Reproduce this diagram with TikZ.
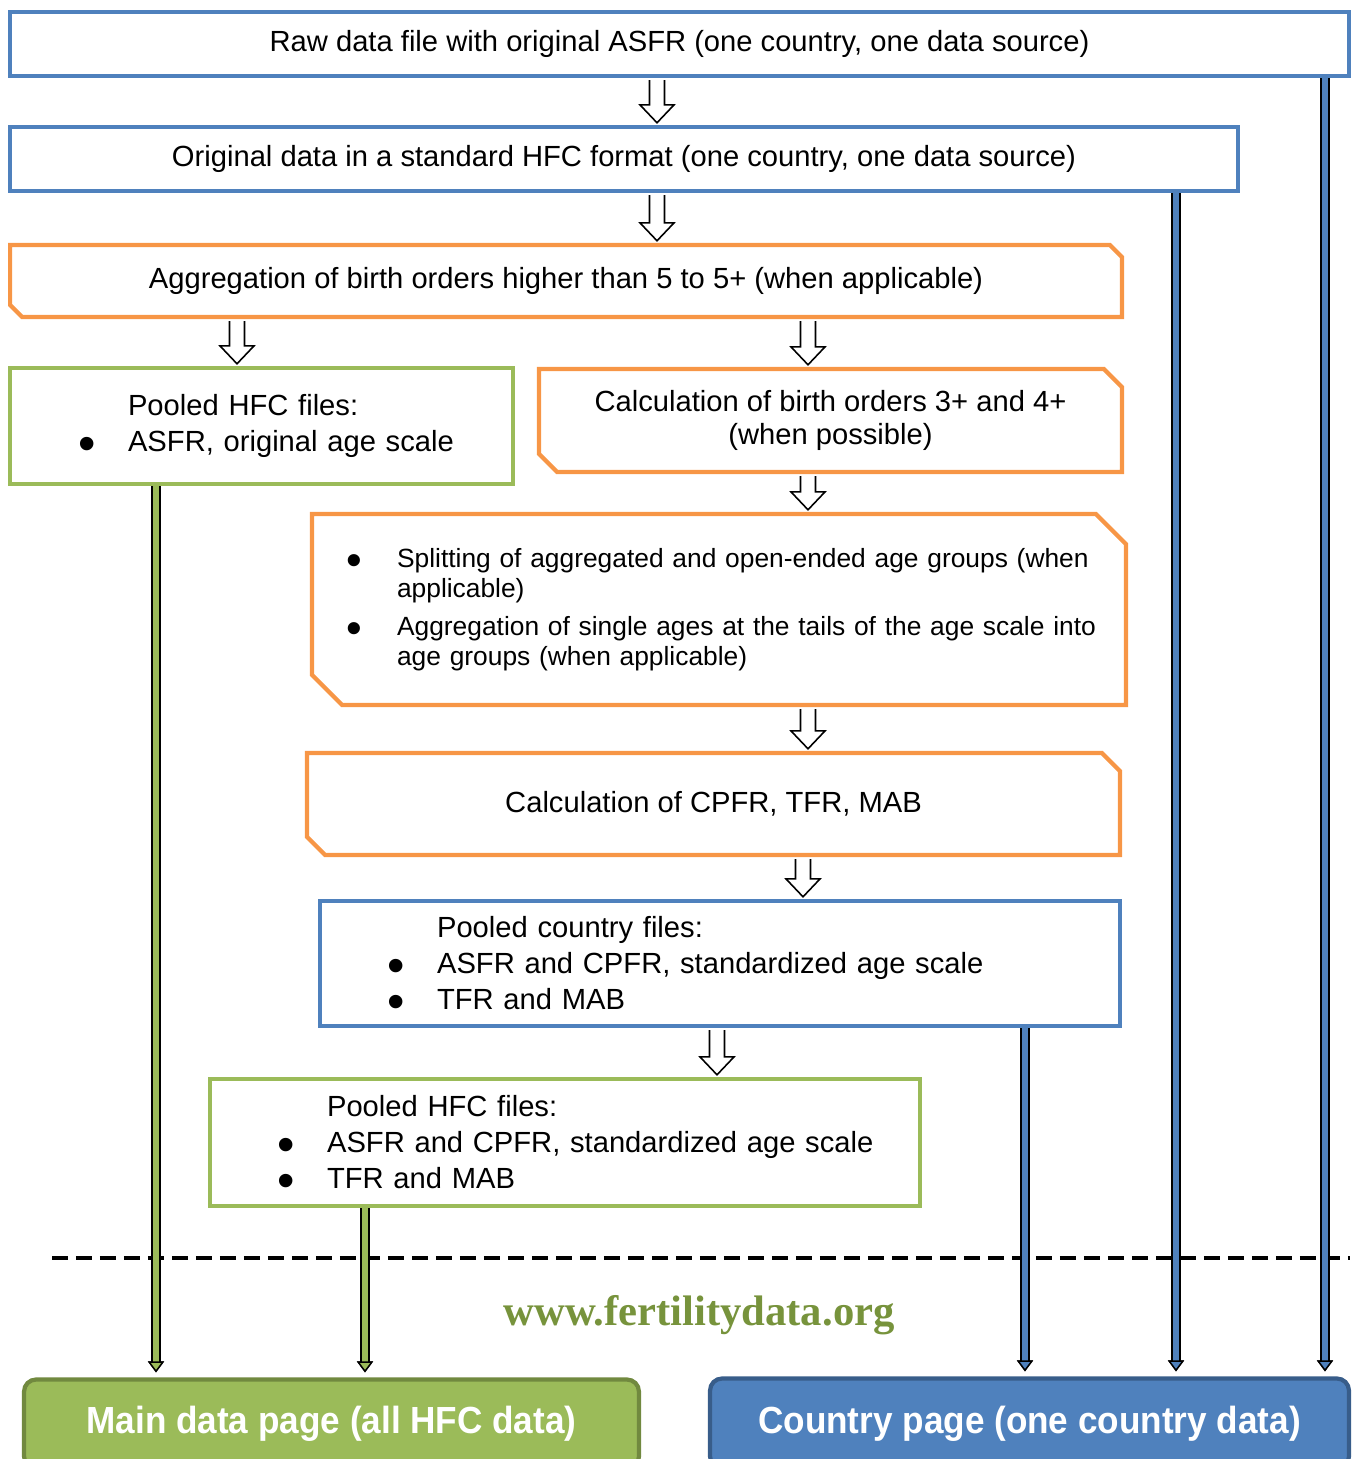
\documentclass[tikz,border=0pt]{standalone}
\usepackage{fontspec}
\setmainfont{Liberation Sans}
\newfontfamily\webfont{Liberation Serif}
\newfontfamily\pagefont[FakeStretch=0.93]{Liberation Sans}
\usepackage{xcolor}
\usetikzlibrary{positioning,shapes.misc,arrows.meta,calc}

\definecolor{hfcblue}{HTML}{4F81BD}
\definecolor{hfcorange}{HTML}{F79646}
\definecolor{hfcgreen}{HTML}{9BBB59}
\definecolor{hfcgreendark}{HTML}{71893F}
\definecolor{hfcbluedark}{HTML}{385D8A}
\definecolor{hfcweb}{HTML}{77933C}

\newcommand{\bul}[2]{\hspace*{#1}\makebox[#2][l]{\smash{\raisebox{-0.3em}{\scalebox{1.7}{\textbullet}}}}}

\begin{document}
\begin{tikzpicture} [
    x=0.02cm, y=-0.02cm,
    font=\fontsize{16.6}{20.5}\selectfont,
    plain/.style={rectangle, draw=#1, line width=2.4pt, inner sep=0pt, align=center},
    listbox/.style={rectangle, draw=#1, line width=2.4pt, inner sep=0pt, align=left},
    snip/.style={chamfered rectangle, chamfered rectangle corners={north east, south west}, chamfered rectangle xsep=#1, chamfered rectangle ysep=#1, draw=hfcorange, line width=2.4pt, inner sep=0pt, align=center},
    webpage/.style={rectangle, rounded corners=0.24cm, fill=#1, line width=2.4pt, text=white, font=\pagefont\bfseries\fontsize{21.5}{26}\selectfont},
    hollow/.style={draw=black, fill=white, line width=0.9pt, to path={let \p1=(\tikztostart), \p2=(\tikztotarget) in
        (\x1-0.15cm,\y1-1.2pt) -- (\x1-0.15cm,\y2+0.4cm) -- (\x1-0.34cm,\y2+0.4cm) -- (\x1,\y2+1.2pt)
        -- (\x1+0.34cm,\y2+0.4cm) -- (\x1+0.15cm,\y2+0.4cm) -- (\x1+0.15cm,\y1-1.2pt)}},
    feed/.style={draw=#1, line width=3.4pt, preaction={draw=black, line width=5.8pt}, shorten >=0.1cm,
        -{Triangle[width=0.32cm, length=0.22cm, line width=0.8pt, color=black, fill=#1]}}
]
\useasboundingbox (0,0) rectangle (1357,1459);

% Main flow
\node[plain=hfcblue, minimum width=26.78cm, minimum height=1.28cm] (raw) at (679.5,44) {Raw data file with original ASFR (one country, one data source)};
\node[plain=hfcblue, minimum width=24.56cm, minimum height=1.28cm] (orig) at (624,159) {Original data in a standard HFC format (one country, one data source)};
\node[snip=0.12cm, minimum width=22.24cm, minimum height=1.44cm] (agg) at (566,281) {Aggregation of birth orders higher than 5 to 5+ (when applicable)};
\node[listbox=hfcgreen, minimum width=10.06cm, text width=10.06cm, minimum height=2.32cm] (pool1) at (261.5,426) {\hspace*{2.36cm}Pooled HFC files:\\
    \bul{1.36cm}{1cm}ASFR, original age scale};
\node[snip=0.18cm, minimum width=11.66cm, minimum height=2.06cm, font=\fontsize{16.6}{19}\selectfont] (births) at (830.5,420.5) {Calculation of birth orders 3+ and 4+\\(when possible)};
\node[snip=0.3cm, minimum width=16.28cm, text width=15.68cm, minimum height=3.82cm, align=left, font=\fontsize{15}{17}\selectfont] (split) at (719,609.5) {\bul{0.38cm}{1.02cm}Splitting of aggregated and open-ended age groups (when\\
    \hspace*{1.4cm}applicable)\\[0.16cm]
    \bul{0.38cm}{1.02cm}Aggregation of single ages at the tails of the age scale into\\
    \hspace*{1.4cm}age groups (when applicable)};
\node[snip=0.18cm, minimum width=16.26cm, minimum height=2.04cm] (calc) at (713.5,804) {Calculation of CPFR, TFR, MAB};
\node[listbox=hfcblue, minimum width=16cm, text width=16cm, minimum height=2.5cm] (country) at (720,963.5) {\hspace*{2.34cm}Pooled country files:\\
    \bul{1.34cm}{1cm}ASFR and CPFR, standardized age scale\\
    \bul{1.34cm}{1cm}TFR and MAB};
\node[listbox=hfcgreen, minimum width=14.2cm, text width=14.2cm, minimum height=2.54cm] (pool2) at (565,1142.5) {\hspace*{2.34cm}Pooled HFC files:\\
    \bul{1.34cm}{1cm}ASFR and CPFR, standardized age scale\\
    \bul{1.34cm}{1cm}TFR and MAB};
\node[webpage=hfcgreen, draw=hfcgreendark, minimum width=12.3cm, minimum height=1.78cm] (mainpage) at (331.5,1424) {Main data page (all HFC data)};
\node[webpage=hfcblue, draw=hfcbluedark, minimum width=12.78cm, minimum height=1.8cm] (cpage) at (1029.5,1423.5) {Country page (one country data)};

% Web address
\draw[dash pattern=on 0.32cm off 0.16cm, line width=2pt] (52,1258) -- (1350,1258);
\node[text=hfcweb, font=\webfont\bfseries\fontsize{24.3}{28}\selectfont] (web) at (699,1315) {www.fertilitydata.org};

% Connections
\draw[hollow] (raw.south -| 657,0) to (orig.north -| 657,0);
\draw[hollow] (orig.south -| 657,0) to (agg.north -| 657,0);
\draw[hollow] (agg.south -| 237,0) to (pool1.north -| 237,0);
\draw[hollow] (agg.south -| 808,0) to (births.north -| 808,0);
\draw[hollow] (births.south -| 808,0) to (split.north -| 808,0);
\draw[hollow] (split.south -| 808,0) to (calc.north -| 808,0);
\draw[hollow] (calc.south -| 803,0) to (country.north -| 803,0);
\draw[hollow] (country.south -| 717,0) to (pool2.north -| 717,0);

\draw[feed=hfcgreen] (pool1.south -| 156,0) -- (mainpage.north -| 156,0);
\draw[feed=hfcgreen] (pool2.south -| 365,0) -- (mainpage.north -| 365,0);
\draw[feed=hfcblue] (country.south -| 1025,0) -- (cpage.north -| 1025,0);
\draw[feed=hfcblue] (orig.south -| 1176,0) -- (cpage.north -| 1176,0);
\draw[feed=hfcblue] (raw.south -| 1325,0) -- (cpage.north -| 1325,0);

\end{tikzpicture}
\end{document}
